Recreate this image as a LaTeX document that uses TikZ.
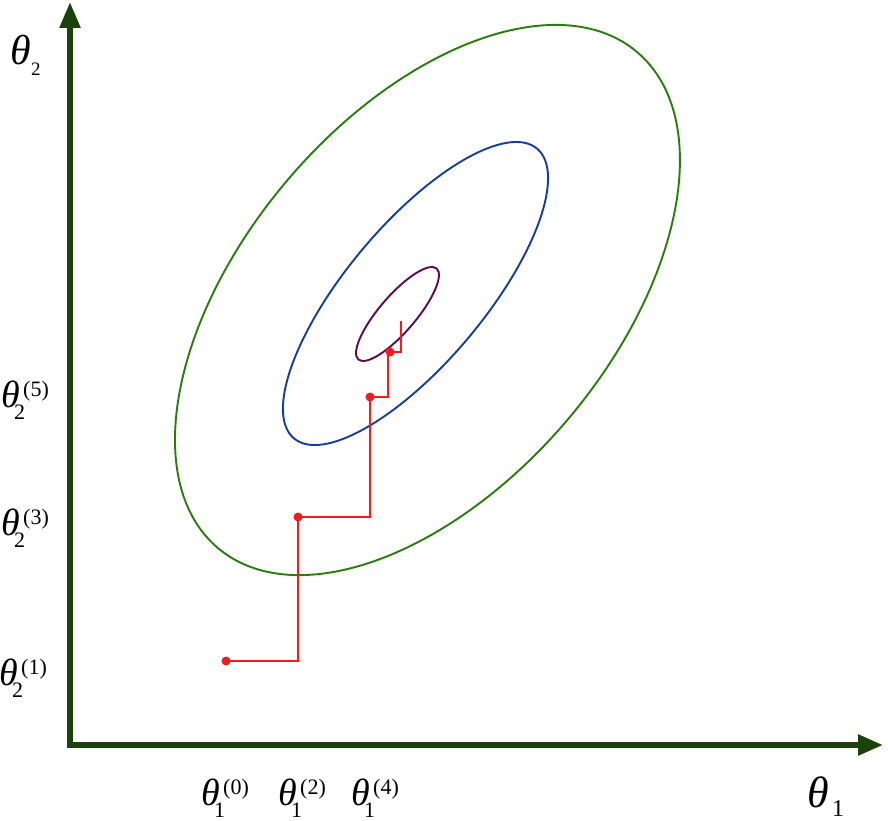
\documentclass[tikz,border=0pt]{standalone}
\usepackage{fontspec}
\setmainfont{Liberation Serif}
\usetikzlibrary{arrows.meta}
\definecolor{axisgreen}{RGB}{28,66,12}
\definecolor{ellgreen}{RGB}{40,125,12}
\definecolor{ellblue}{RGB}{22,60,160}
\definecolor{ellpurple}{RGB}{92,10,80}
\definecolor{pathred}{RGB}{250,25,25}
\newcommand{\thtick}[2]{\rlap{\fontsize{38}{38}\selectfont\itshape θ}\kern13pt\rlap{\raisebox{-12pt}{\fontsize{22}{22}\selectfont #1}}\kern9pt\raisebox{11pt}{\fontsize{22}{22}\selectfont (#2)}}
\begin{document}
\begin{tikzpicture}[x=1pt,y=-1pt,
  axisline/.style={line width=5.5pt,draw=axisgreen,line join=miter,
     {Triangle[length=26pt,width=20pt]}-{Triangle[length=25pt,width=20pt]}},
  contour/.style={line width=1.9pt},
  redpath/.style={draw=pathred,line width=1.7pt},
  reddot/.style={circle,fill=pathred,inner sep=0pt,minimum size=9pt},
  ticklab/.style={anchor=base west,inner sep=0pt},
  axlab/.style={anchor=base west,inner sep=0pt}]
\useasboundingbox (0,0) rectangle (888,821);
% axes
\coordinate (ytop) at (70,2);
\coordinate (O) at (70,745);
\coordinate (xend) at (883,745);
\draw[axisline] (ytop) -- (O) -- (xend);
% contours
\coordinate (cg) at (427.5,300);
\coordinate (cb) at (415.5,293.5);
\coordinate (cp) at (397.5,314);
\draw[contour,ellgreen,rotate around={49.8:(cg)}] (cg) ellipse [x radius=324.7,y radius=184.3];
\draw[contour,ellblue,rotate around={50:(cb)}] (cb) ellipse [x radius=189.1,y radius=69];
\draw[contour,ellpurple,rotate around={49.3:(cp)}] (cp) ellipse [x radius=60,y radius=18.1];
% path
\node[reddot] (p0) at (226,661) {};
\node[reddot] (p2) at (298,517) {};
\node[reddot] (p4) at (370,397) {};
\node[reddot] (p6) at (390,352) {};
\coordinate (pend) at (401,321);
\draw[redpath] (p0.center) -| (p2.center) -| (p4.center) -- (388,397) -- (388,352) -- (p6.center) -| (pend);
% axis labels
\node[axlab] (t2) at (10,65) {\rlap{\fontsize{42}{42}\selectfont\itshape θ}\kern21pt\raisebox{-11pt}{\fontsize{19}{19}\selectfont 2}};
\node[axlab] (t1) at (807,807) {\rlap{\fontsize{44}{44}\selectfont\itshape θ}\kern25pt\raisebox{-9pt}{\fontsize{24}{24}\selectfont 1}};
% tick labels
\node[ticklab] (a5) at (1,407) {\thtick{2}{5}};
\node[ticklab] (a3) at (1,535) {\thtick{2}{3}};
\node[ticklab] (a1) at (-1,685) {\thtick{2}{1}};
\node[ticklab] (b0) at (201,805) {\thtick{1}{0}};
\node[ticklab] (b2) at (278,805) {\thtick{1}{2}};
\node[ticklab] (b4) at (351,805) {\thtick{1}{4}};
\end{tikzpicture}
\end{document}
